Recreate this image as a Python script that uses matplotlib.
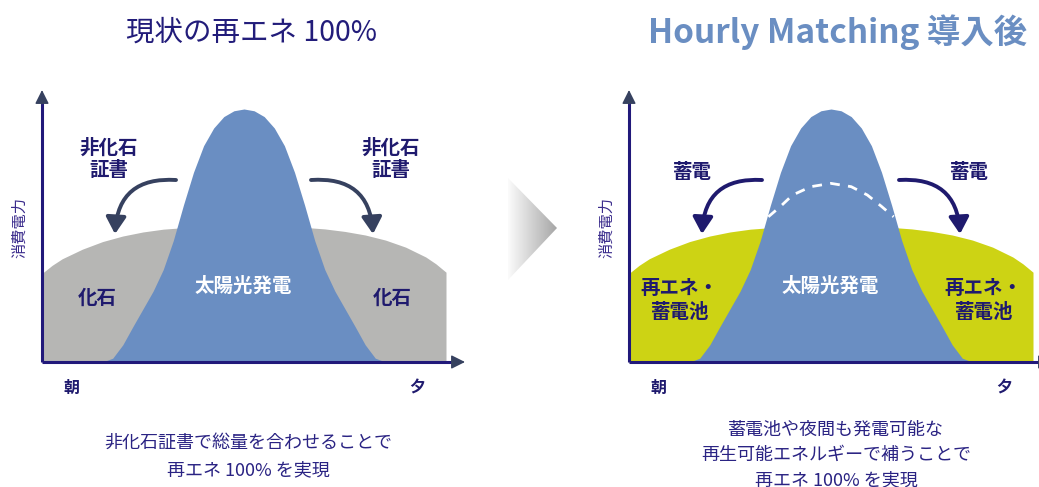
import numpy as np
import matplotlib
matplotlib.use('Agg')
import matplotlib.pyplot as plt
from matplotlib.patches import FancyArrowPatch, Polygon
from matplotlib.colors import LinearSegmentedColormap

plt.rcParams['font.family'] = ['Noto Sans CJK JP', 'DejaVu Sans']

# ---------------- data ----------------
# time axis (morning 0 -> evening 20), demand dome
demand_x = [0, 0.5, 1, 2, 3, 4, 5, 6, 7, 8, 9, 10, 11, 12, 13, 14, 15, 16, 17, 18, 19, 19.5, 20]
demand_y = [35, 38.2, 40.8, 44.6, 47.6, 49.8, 51.4, 52.5, 53.1, 53.4, 53.5, 53.5, 53.5, 53.4,
            53.2, 52.6, 51.6, 50.2, 48.2, 45.4, 41.5, 38.8, 35.5]
# solar generation bell
solar_x = [3.0, 3.5, 4.0, 4.5, 5.0, 5.5, 6.0, 6.5, 7.0, 7.5, 8.0, 8.5, 9.0, 9.5, 10.0,
           10.5, 11.0, 11.5, 12.0, 12.5, 13.0, 13.5, 14.0, 14.5, 15.0, 15.5, 16.0, 16.5, 17.0]
solar_y = [0, 1.5, 6.8, 14.0, 21, 28, 36.5, 48, 62, 75, 85.5, 92.5, 97, 99.3, 100,
           99.3, 97, 92.5, 85.5, 75, 62, 48, 36.5, 28, 21, 14.0, 6.8, 1.5, 0]
# dashed arc (demand covered by solar in the right panel)
arc_x = [6.9, 7.5, 8.1, 9.0, 10.0, 11.0, 11.8, 12.5, 13.1]
arc_y = [57.4, 61.5, 66.0, 69.3, 70.6, 69.3, 66.0, 61.5, 57.4]

title_left = '現状の再エネ 100%'
title_right = 'Hourly Matching 導入後'
ylabel = '消費電力'
morning, evening = '朝', '夕'
left_side_labels = ['非化石', '証書']
left_fill_label = '化石'
solar_label = '太陽光発電'
right_side_label = '蓄電'
right_fill_labels = ['再エネ・', '蓄電池']
caption_left = ['非化石証書で総量を合わせることで', '再エネ 100% を実現']
caption_right = ['蓄電池や夜間も発電可能な', '再生可能エネルギーで補うことで', '再エネ 100% を実現']

# ---------------- style ----------------
BLUE = '#6a8ec2'
GRAY = '#b6b6b4'
YELLOW = '#cdd314'
NAVY = '#1f1a6e'
AXIS = '#21197a'
HEAD = '#36415f'
TXT = '#2a2383'

W, H = 1039, 487
fig = plt.figure(figsize=(W / 100, H / 100), dpi=100)
fig.patch.set_facecolor('white')


def panel(x0, fillcolor, arcs=False):
    ax = fig.add_axes([x0 / W, 125 / H, 404 / W, 253 / H])
    ax.set_xlim(0, 20)
    ax.set_ylim(0, 100)
    ax.axis('off')
    ax.fill_between(demand_x, 0, demand_y, color=fillcolor, lw=0, zorder=1)
    ax.fill_between(solar_x, 0, solar_y, color=BLUE, lw=0, zorder=2)
    if arcs:
        ax.plot(arc_x, arc_y, color='white', lw=2, ls=(0, (3.5, 3)), zorder=3,
                solid_capstyle='butt')
    # axes with arrows
    ax.plot([0, 0], [0, 105], color=AXIS, lw=2.2, clip_on=False, zorder=5,
            solid_capstyle='butt')
    ax.plot([0, 20.5], [0, 0], color=AXIS, lw=2.2, clip_on=False, zorder=5,
            solid_capstyle='butt')
    ax.annotate('', xy=(0, 107.5), xytext=(0, 102), annotation_clip=False,
                arrowprops=dict(arrowstyle='-|>,head_length=0.6,head_width=0.3',
                                color=HEAD, lw=1, mutation_scale=14,
                                shrinkA=0, shrinkB=0), zorder=6)
    ax.annotate('', xy=(20.94, 0), xytext=(20.4, 0), annotation_clip=False,
                arrowprops=dict(arrowstyle='-|>,head_length=0.6,head_width=0.3',
                                color=HEAD, lw=1, mutation_scale=14,
                                shrinkA=0, shrinkB=0), zorder=6)
    return ax


panel(42, GRAY)
panel(629, YELLOW, arcs=True)

ov = fig.add_axes([0, 0, 1, 1])
ov.set_xlim(0, W)
ov.set_ylim(H, 0)
ov.axis('off')

# gradient chevron between panels
tri = Polygon([(508, 178), (557, 228), (508, 280)], closed=True, fc='none', ec='none')
ov.add_patch(tri)
cmap = LinearSegmentedColormap.from_list('g', ['#ffffff', '#a6a6a6'])
grad = np.linspace(0, 1, 200).reshape(1, -1)
im = ov.imshow(grad, extent=[506, 557, 280, 178], cmap=cmap, aspect='auto',
               interpolation='bicubic', zorder=1)
im.set_clip_path(tri)
ov.set_xlim(0, W)
ov.set_ylim(H, 0)

# titles
ov.text(251, 33, title_left, ha='center', va='center', fontsize=20.5, color='#221c7a')
ov.text(837.5, 32, title_right, ha='center', va='center', fontsize=24,
        fontweight='bold', color=BLUE)


def arrow(p0, p1, rad, color):
    ov.add_patch(FancyArrowPatch(p0, p1, connectionstyle=f'arc3,rad={rad}',
                                 arrowstyle='-|>,head_length=0.5,head_width=0.3',
                                 mutation_scale=20, lw=2.8, color=color,
                                 shrinkA=0, shrinkB=0, zorder=4))


# left panel annotations
arrow((176, 180), (115, 234), 0.5, HEAD)
arrow((311, 180), (373, 234), -0.5, HEAD)
for cx in (108.5, 390.5):
    ov.text(cx, 148, left_side_labels[0], ha='center', va='center', fontsize=14,
            fontweight='bold', color=NAVY)
    ov.text(cx, 171, left_side_labels[1], ha='center', va='center', fontsize=14,
            fontweight='bold', color=NAVY)
for cx in (97, 392):
    ov.text(cx, 298, left_fill_label, ha='center', va='center', fontsize=14,
            fontweight='bold', color=NAVY)
ov.text(243.5, 286, solar_label, ha='center', va='center', fontsize=14,
        fontweight='bold', color='white')

# right panel annotations
arrow((762, 180), (702, 234), 0.5, NAVY)
arrow((899, 180), (960, 234), -0.5, NAVY)
for cx in (692.5, 969):
    ov.text(cx, 172, right_side_label, ha='center', va='center', fontsize=14,
            fontweight='bold', color=NAVY)
for cx in (680, 984):
    ov.text(cx - 1, 289, right_fill_labels[0], ha='center', va='center', fontsize=14,
            fontweight='bold', color=NAVY)
    ov.text(cx, 313, right_fill_labels[1], ha='center', va='center', fontsize=14,
            fontweight='bold', color=NAVY)
ov.text(830, 286, solar_label, ha='center', va='center', fontsize=14,
        fontweight='bold', color='white')

# axis words
for x0 in (42, 629):
    ov.text(x0 - 22, 227, ylabel, ha='center', va='center', rotation=90, fontsize=11,
            color='#3a2b8c')
    ov.text(x0 + 29, 388, morning, ha='center', va='center', fontsize=11.5,
            fontweight='bold', color=NAVY)
    ov.text(x0 + 375, 388, evening, ha='center', va='center', fontsize=11.5,
            fontweight='bold', color=NAVY)

# captions
for i, line in enumerate(caption_left):
    ov.text(248, 443 + 27 * i, line, ha='center', va='center', fontsize=13, color=TXT)
for i, line in enumerate(caption_right):
    ov.text(836, 430 + 25 * i, line, ha='center', va='center', fontsize=13, color=TXT)

fig.savefig('out.png', dpi=100)
